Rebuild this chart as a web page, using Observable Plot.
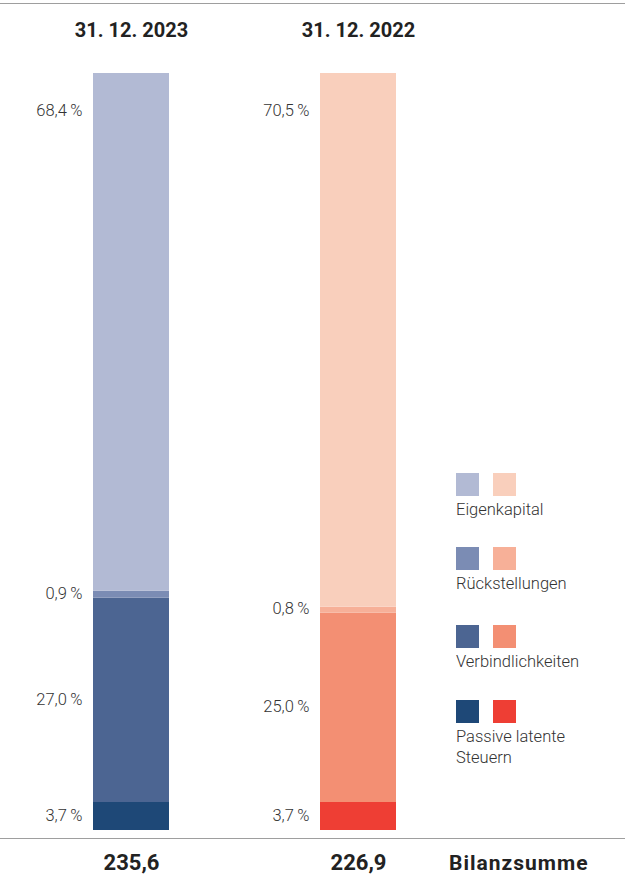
<!DOCTYPE html>
<html>
<head>
<meta charset="utf-8">
<script src="https://cdn.jsdelivr.net/npm/d3@7"></script>
<script src="https://cdn.jsdelivr.net/npm/@observablehq/plot@0.6"></script>
<style>
  html, body { margin: 0; padding: 0; background: #fff; }
  #wrap { position: relative; width: 625px; height: 876px; overflow: hidden;
          font-family: "Roboto", sans-serif; }
  #chart { position: absolute; left: 0; top: 0; }
  .rule { position: absolute; left: 0; width: 625px; height: 0; border-top: 1.5px solid #9e9e9e; }
  .sw { position: absolute; width: 23px; height: 23px; }
  .lg { position: absolute; font-size: 16.5px; font-weight: 300; color: #333; line-height: 21px; }
  #bilanz { position: absolute; left: 449px; top: 851px; font-size: 21px; font-weight: bold;
            color: #222; letter-spacing: 1px; }
</style>
</head>
<body>
<div id="wrap">
  <div class="rule" style="top:3px"></div>
  <div class="rule" style="top:838px"></div>
  <div id="chart"></div>
  <div id="legend"></div>
  <div id="bilanz">Bilanzsumme</div>
</div>
<script>
// ---- data ----
const years = ["31. 12. 2023", "31. 12. 2022"];
const categories = ["Eigenkapital", "Rückstellungen", "Verbindlichkeiten", "Passive latente Steuern"];
const shares2023 = [68.4, 0.9, 27.0, 3.7];
const shares2022 = [70.5, 0.8, 25.0, 3.7];
const totals = [235.6, 226.9];
const colors2023 = ["#b2bad4", "#7b8cb4", "#4c6592", "#1e4877"];
const colors2022 = ["#f9cfbc", "#f7b098", "#f38f73", "#ee3e34"];

const shares = [shares2023, shares2022];
const palettes = [colors2023, colors2022];

// rows stacked from bottom: last category first
const rows = [];
years.forEach((yr, i) => {
  for (let j = categories.length - 1; j >= 0; j--) {
    rows.push({ year: yr, category: categories[j], value: shares[i][j], key: yr + "|" + categories[j] });
  }
});
const colorDomain = [], colorRange = [];
years.forEach((yr, i) => categories.forEach((c, j) => { colorDomain.push(yr + "|" + c); colorRange.push(palettes[i][j]); }));

const fmt = v => v.toFixed(1).replace(".", ",");
const pct = v => fmt(v) + "\u2009%";
const totalRows = years.map((yr, i) => ({ year: yr, total: totals[i] }));

const FONT = '"Roboto", sans-serif';

const plot = Plot.plot({
  width: 625,
  height: 876,
  marginTop: 73,
  marginBottom: 46,
  marginLeft: 0,
  marginRight: 0,
  style: { fontFamily: FONT, background: "transparent" },
  x: { domain: years, range: [93, 396], paddingInner: 151 / 227, paddingOuter: 0, axis: null },
  y: { domain: [0, 100], axis: null },
  color: { domain: colorDomain, range: colorRange },
  marks: [
    Plot.barY(rows, Plot.stackY({ x: "year", y: "value", fill: "key", order: null })),
    // labels for lower segments: centered on their segment
    Plot.text(rows, Plot.stackY({
      x: "year", y: "value", order: null,
      text: d => d.category !== categories[0] ? pct(d.value) : null,
      textAnchor: "end", dx: -49, dy: -1, fontSize: 16.5, fontWeight: 300, fill: "#333"
    })),
    // label for the top segment: near its upper edge
    Plot.text(rows, Plot.stackY2({
      x: "year", y: "value", order: null,
      text: d => d.category === categories[0] ? pct(d.value) : null,
      textAnchor: "end", dx: -49, dy: 37, fontSize: 16.5, fontWeight: 300, fill: "#333"
    })),
    // column headers
    Plot.text(years, { x: d => d, frameAnchor: "top", lineAnchor: "middle", dy: -43, text: d => d,
      fontSize: 20, fontWeight: "bold", fill: "#222" }),
    // totals
    Plot.text(totalRows, { x: "year", frameAnchor: "bottom", lineAnchor: "middle", dy: 32, text: d => fmt(d.total),
      fontSize: 22, fontWeight: "bold", fill: "#222" })
  ]
});
document.getElementById("chart").appendChild(plot);

// ---- legend ----
const legendTops = [473, 547, 625, 700];
const legend = document.getElementById("legend");
categories.forEach((c, j) => {
  const t = legendTops[j];
  [colors2023[j], colors2022[j]].forEach((col, k) => {
    const s = document.createElement("div");
    s.className = "sw";
    s.style.left = (456 + k * 37) + "px";
    s.style.top = t + "px";
    s.style.background = col;
    legend.appendChild(s);
  });
  const l = document.createElement("div");
  l.className = "lg";
  l.style.left = "456px";
  l.style.top = (t + 26) + "px";
  l.innerHTML = c === "Passive latente Steuern" ? "Passive latente<br>Steuern" : c;
  legend.appendChild(l);
});
</script>
</body>
</html>
